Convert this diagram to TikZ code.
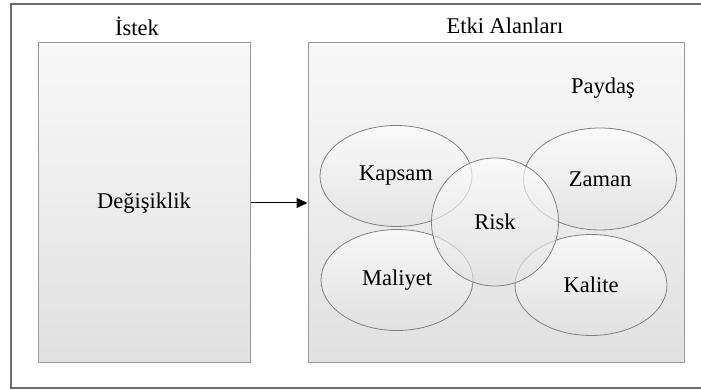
\documentclass[tikz,border=0pt]{standalone}
\usepackage{fontspec}
\setmainfont{Liberation Serif}
\usetikzlibrary{arrows.meta,shapes.geometric}
\definecolor{framegray}{rgb}{0.42,0.42,0.42}
\definecolor{boxgray}{rgb}{0.6,0.6,0.6}
\definecolor{ringgray}{rgb}{0.5,0.5,0.5}

\begin{document}
\begin{tikzpicture}[x=1pt,y=1pt,
    bigbox/.style={rectangle,draw=boxgray,line width=1pt,top color=gray!5,bottom color=gray!24,inner sep=0pt},
    area/.style={ellipse,draw=ringgray,line width=0.8pt,top color=white,bottom color=gray!24,fill opacity=0.65,text opacity=1,inner sep=0pt},
    caption/.style={font=\fontsize{22.5}{27}\selectfont}]
    \useasboundingbox (0,0) rectangle (701,390);
    \begin{scope}
        \clip (0,0) rectangle (701,390);
        \draw [color=framegray,line width=1.5pt] (11,386) rectangle (712,2);
    \end{scope}
    \node [bigbox,minimum width=212pt,minimum height=320pt,caption] (change) at (144,187) {Değişiklik};
    \node [bigbox,minimum width=376pt,minimum height=320pt] (impact) at (496,187) {};
    \node [caption] (request) at (137,364) {İstek};
    \node [caption] (areas) at (505,364) {Etki Alanları};
    \node [caption] (stake) at (603,302) {Paydaş};
    \node [area,minimum width=152pt,minimum height=101pt,caption] (scope) at (396,214) {Kapsam};
    \node [area,minimum width=153pt,minimum height=102pt,caption] (time) at (600,211) {Zaman};
    \node [area,minimum width=152pt,minimum height=101pt,caption] (cost) at (397,110) {Maliyet};
    \node [area,minimum width=152pt,minimum height=101pt,caption] (quality) at (591,105) {Kalite};
    \node [area,minimum width=127pt,minimum height=128pt,caption] (risk) at (495,168) {Risk};
    \draw [line width=1pt,-{Triangle[length=11pt,width=10pt]}] (change.east) -- (impact.west);
\end{tikzpicture}
\end{document}
